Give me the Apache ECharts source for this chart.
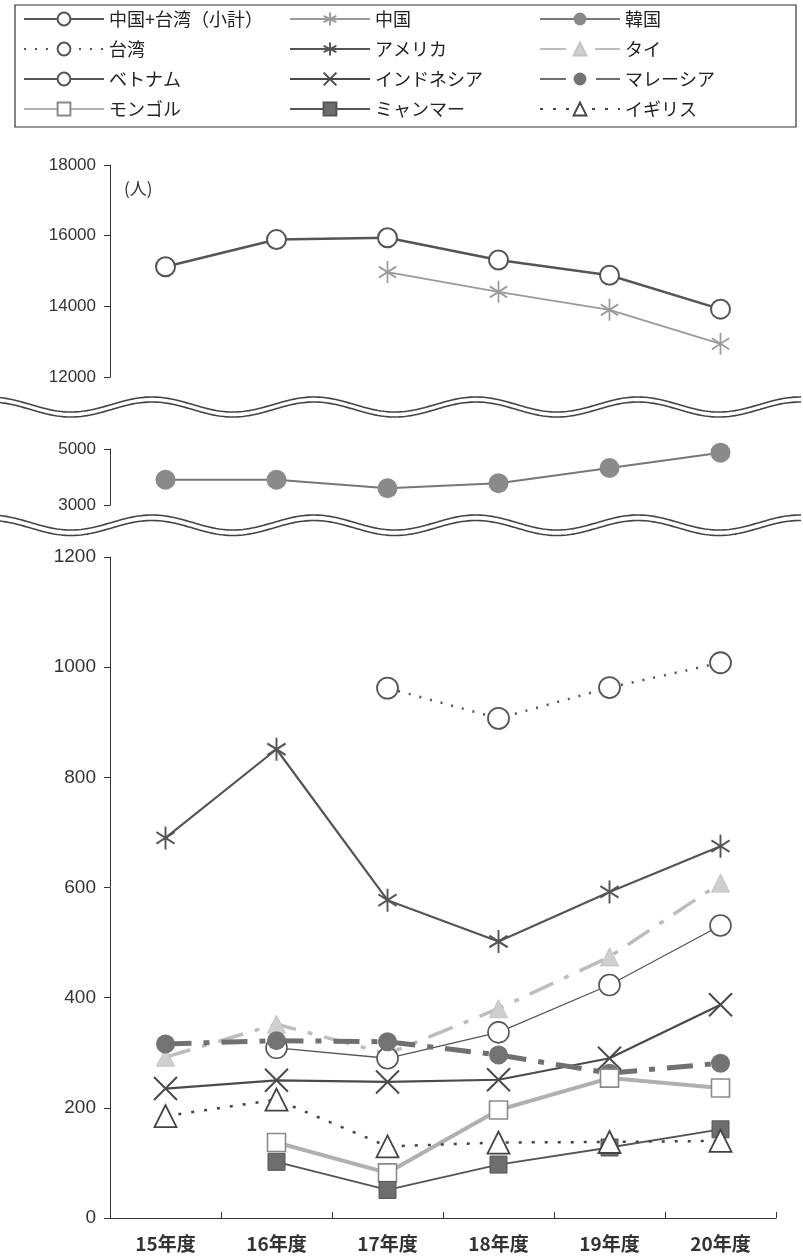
<!DOCTYPE html>
<html>
<head>
<meta charset="utf-8">
<title>国・地域別 留学生数の推移</title>
<script src="https://cdn.jsdelivr.net/npm/echarts@6/dist/echarts.min.js"></script>
<style>
  html, body { margin: 0; padding: 0; background: #fff; }
  #chart { width: 803px; height: 1259px; }
</style>
</head>
<body>
<div id="chart"></div>
<script>
// 年度
const categories = ['15年度', '16年度', '17年度', '18年度', '19年度', '20年度'];

// 上段（12000〜18000人）
const subtotal = [15120, 15890, 15940, 15310, 14880, 13920]; // 中国+台湾（小計）
const china    = [null, null, 14970, 14410, 13900, 12940];

// 中段（3000〜5000人）
const korea    = [3900, 3900, 3600, 3780, 4320, 4870];

// 下段（0〜1200人）
const taiwan    = [null, null, 962, 907, 963, 1008];
const usa       = [690, 851, 577, 502, 592, 675];
const thai      = [292, 352, 298, 380, 474, 608];
const vietnam   = [null, 309, 290, 337, 423, 531];
const indonesia = [235, 250, 247, 251, 290, 387];
const malaysia  = [316, 322, 320, 296, 263, 281];
const mongolia  = [null, 137, 82, 196, 254, 236];
const myanmar   = [null, 102, 51, 97, 128, 161];
const uk        = [185, 215, 130, 137, 138, 140];

// 軸目盛
const topTicks = { min: 12000, max: 18000, interval: 2000 };
const midTicks = { min: 3000, max: 5000, interval: 2000 };
const lowTicks = { min: 0, max: 1200, interval: 200 };

const ASTERISK = 'path://M0,-10L0,10M-8.66,-5L8.66,5M-8.66,5L8.66,-5';
const CROSS = 'path://M-10,-10L10,10M-10,10L10,-10';

const NUM_FONT = 'Liberation Sans, Arial, sans-serif';
const JP_FONT = 'Noto Sans CJK JP, sans-serif';

const chart = echarts.init(document.getElementById('chart'), null, { renderer: 'canvas' });

const gridLeft = 110, gridRight = 27;

function yAxis(gridIndex, t, fontSize) {
  return {
    type: 'value', gridIndex, min: t.min, max: t.max, interval: t.interval,
    axisLine: { show: true, lineStyle: { color: '#333', width: 1 } },
    axisTick: { show: true, length: 6, lineStyle: { color: '#333', width: 1 } },
    axisLabel: { fontSize, fontFamily: NUM_FONT, color: '#333', margin: 14,
                 formatter: v => String(v) },
    splitLine: { show: false }
  };
}

function xAxis(gridIndex, visible) {
  return {
    type: 'category', gridIndex, data: categories, boundaryGap: true,
    show: visible,
    axisLine: { show: true, lineStyle: { color: '#333', width: 1 } },
    axisTick: { show: true, inside: true, length: 6, lineStyle: { color: '#333' } },
    axisLabel: { fontSize: 19, fontFamily: JP_FONT, fontWeight: 'bold', color: '#333', margin: 16 },
    splitLine: { show: false }
  };
}

function line(name, data, axisIdx, o) {
  return {
    name, type: 'line', data,
    xAxisIndex: axisIdx, yAxisIndex: axisIdx,
    symbol: o.symbol, symbolSize: o.size, symbolKeepAspect: true,
    showAllSymbol: true, connectNulls: false,
    lineStyle: { color: o.lineColor, width: o.lineWidth, type: o.dash || 'solid' },
    itemStyle: { color: o.fill, borderColor: o.border, borderWidth: o.borderWidth },
    emphasis: { disabled: true },
    animation: false
  };
}

// 波線（省略記号）
function wave(cy) {
  const pts = [];
  for (let x = 0; x <= 803; x += 3) {
    pts.push([x, cy - 7.5 * Math.cos(2 * Math.PI * (x - 152) / 162)]);
  }
  return {
    type: 'polyline', shape: { points: pts, smooth: 0 },
    style: { stroke: '#444', lineWidth: 1.6, fill: null }, silent: true
  };
}

const legendCommon = {
  orient: 'vertical', top: 10, padding: 0,
  itemWidth: 80, itemHeight: 16, itemGap: 12,
  selectedMode: false,
  textStyle: { fontSize: 18, fontFamily: JP_FONT, color: '#222' }
};

const option = {
  backgroundColor: '#fff',
  animation: false,
  legend: [
    Object.assign({ left: 23, data: ['中国+台湾（小計）', '台湾', 'ベトナム', 'モンゴル'] }, legendCommon),
    Object.assign({ left: 289, data: ['中国', 'アメリカ', 'インドネシア', 'ミャンマー'] }, legendCommon),
    Object.assign({ left: 539, data: ['韓国', 'タイ', 'マレーシア', 'イギリス'] }, legendCommon)
  ],
  grid: [
    { left: gridLeft, right: gridRight, top: 165, height: 212 },
    { left: gridLeft, right: gridRight, top: 449, height: 56 },
    { left: gridLeft, right: gridRight, top: 557, height: 661 }
  ],
  xAxis: [xAxis(0, false), xAxis(1, false), xAxis(2, true)],
  yAxis: [yAxis(0, topTicks, 17), yAxis(1, midTicks, 17), yAxis(2, lowTicks, 19)],
  graphic: [
    { type: 'rect', shape: { x: 15, y: 5, width: 781, height: 122 },
      style: { stroke: '#333', lineWidth: 1.2, fill: null }, silent: true },
    { type: 'text', left: 124, top: 180,
      style: { text: '(人)', fontSize: 17, fontFamily: JP_FONT, fill: '#333' } },
    wave(404.5), wave(409.5),
    wave(522.5), wave(528)
  ],
  series: [
    line('中国+台湾（小計）', subtotal, 0, { symbol: 'circle', size: 19, lineColor: '#555', lineWidth: 2.5, fill: '#fff', border: '#555', borderWidth: 2 }),
    line('中国', china, 0, { symbol: ASTERISK, size: [20, 22], lineColor: '#9a9a9a', lineWidth: 1.8, fill: 'rgba(0,0,0,0)', border: '#9a9a9a', borderWidth: 1.8 }),
    line('韓国', korea, 1, { symbol: 'circle', size: 20, lineColor: '#777', lineWidth: 2, fill: '#8a8a8a', border: '#8a8a8a', borderWidth: 0 }),
    line('台湾', taiwan, 2, { symbol: 'circle', size: 21, lineColor: '#555', lineWidth: 2.5, dash: [2, 9], fill: '#fff', border: '#555', borderWidth: 1.8 }),
    line('アメリカ', usa, 2, { symbol: ASTERISK, size: [21, 23], lineColor: '#555', lineWidth: 2.2, fill: 'rgba(0,0,0,0)', border: '#555', borderWidth: 2 }),
    line('タイ', thai, 2, { symbol: 'triangle', size: 18, lineColor: '#bdbdbd', lineWidth: 3.5, dash: [26, 12, 5, 12], fill: '#cfcfcf', border: '#c4c4c4', borderWidth: 1 }),
    line('ベトナム', vietnam, 2, { symbol: 'circle', size: 21, lineColor: '#555', lineWidth: 1.3, fill: '#fff', border: '#555', borderWidth: 1.6 }),
    line('インドネシア', indonesia, 2, { symbol: CROSS, size: 23, lineColor: '#4a4a4a', lineWidth: 2.2, fill: 'rgba(0,0,0,0)', border: '#4a4a4a', borderWidth: 2 }),
    line('マレーシア', malaysia, 2, { symbol: 'circle', size: 19, lineColor: '#707070', lineWidth: 5, dash: [26, 12, 6, 12], fill: '#737373', border: '#737373', borderWidth: 0 }),
    line('モンゴル', mongolia, 2, { symbol: 'rect', size: 18, lineColor: '#b0b0b0', lineWidth: 4, fill: '#fff', border: '#8a8a8a', borderWidth: 1.6 }),
    line('ミャンマー', myanmar, 2, { symbol: 'rect', size: 17, lineColor: '#555', lineWidth: 1.8, fill: '#6e6e6e', border: '#555', borderWidth: 1 }),
    line('イギリス', uk, 2, { symbol: 'triangle', size: 22, lineColor: '#444', lineWidth: 2.5, dash: [3, 10], fill: '#fff', border: '#444', borderWidth: 1.8 })
  ]
};

chart.setOption(option);
</script>
</body>
</html>
